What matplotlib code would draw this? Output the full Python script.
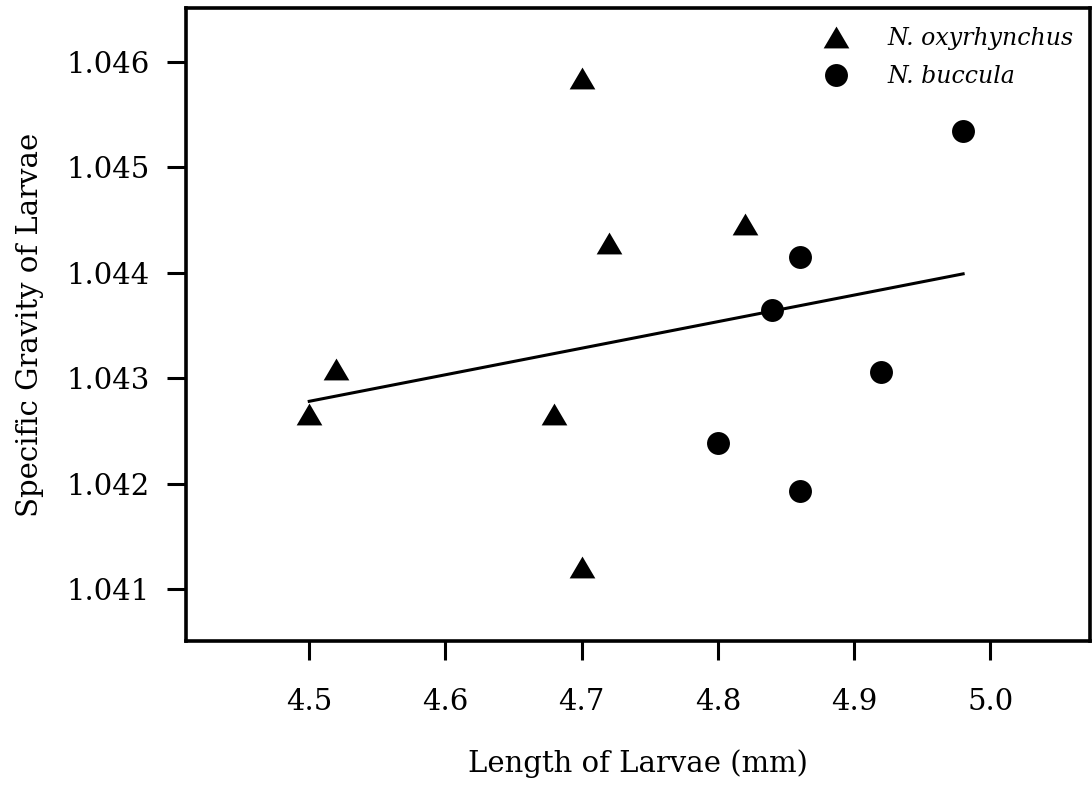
import numpy as np
import matplotlib
matplotlib.use("Agg")
from matplotlib import pyplot as plt

plt.rcParams['font.family'] = ['DejaVu Serif']

# N. oxyrhynchus (triangles)
oxy_len = [4.50, 4.52, 4.70, 4.72, 4.68, 4.70, 4.82]
oxy_sg = [1.04266, 1.04309, 1.04584, 1.04428, 1.04266, 1.04121, 1.04446]

# N. buccula (circles)
buc_len = [4.98, 4.86, 4.84, 4.92, 4.80, 4.86]
buc_sg = [1.04534, 1.04415, 1.04365, 1.04306, 1.04239, 1.04193]

xticks = [4.5, 4.6, 4.7, 4.8, 4.9, 5.0]
yticks = [1.041, 1.042, 1.043, 1.044, 1.045, 1.046]

# regression over both species
all_x = np.array(oxy_len + buc_len)
all_y = np.array(oxy_sg + buc_sg)
slope, icpt = np.polyfit(all_x, all_y, 1)
fit_x = np.array([all_x.min(), all_x.max()])

fig = plt.figure(figsize=(10.92, 7.87), dpi=100)
ax = fig.add_axes([0.1703, 0.1855, 0.8277, 0.8043])

tri = [(-1, -0.85), (1, -0.85), (0, 0.85)]
ax.plot(fit_x, slope * fit_x + icpt, color='black', lw=2.2, zorder=1)
ax.plot(oxy_len, oxy_sg, linestyle='none', marker=tri, markersize=18.5,
        color='black', markeredgewidth=0, label='N. oxyrhynchus', zorder=2)
ax.plot(buc_len, buc_sg, linestyle='none', marker='o', markersize=16.5,
        color='black', markeredgewidth=0, label='N. buccula', zorder=2)

ax.set_xlim(4.4095, 5.073)
ax.set_ylim(1.040512, 1.046507)
ax.set_xticks(xticks)
ax.set_xticklabels([f"{v:.1f}" for v in xticks])
ax.set_yticks(yticks)
ax.set_yticklabels([f"{v:.3f}" for v in yticks])

for s in ax.spines.values():
    s.set_linewidth(2.6)
ax.tick_params(axis='both', length=14, width=2.2, labelsize=21)
ax.tick_params(axis='x', pad=20)
ax.tick_params(axis='y', pad=12)

ax.set_xlabel('Length of Larvae (mm)', fontsize=21, labelpad=24)
ax.set_ylabel('Specific Gravity of Larvae', fontsize=21, labelpad=16)

leg = ax.legend(loc='upper right', bbox_to_anchor=(0.9978, 0.9926), frameon=False,
                prop={'style': 'italic', 'size': 17}, handletextpad=1.57,
                labelspacing=0.65, borderaxespad=0.2, handlelength=1.2)

fig.savefig('out.png', dpi=100)
